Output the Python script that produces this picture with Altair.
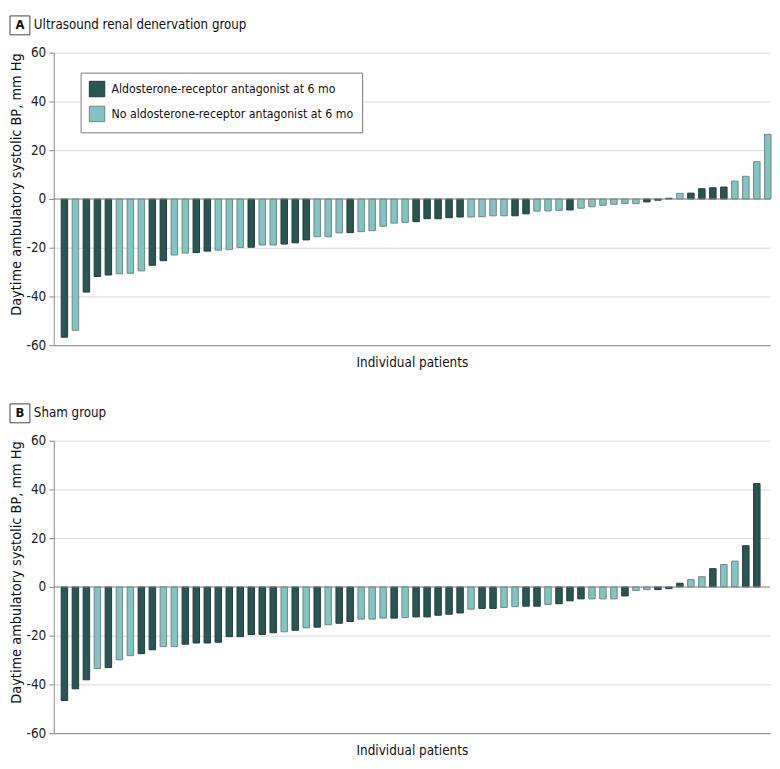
import altair as alt
import pandas as pd

FONT = "Liberation Sans Narrow, DejaVu Sans Condensed, Roboto Condensed, Roboto, sans-serif"

LAB_D = "Aldosterone-receptor antagonist at 6 mo"
LAB_L = "No aldosterone-receptor antagonist at 6 mo"
DARK, LIGHT = "#2b5552", "#82c4c1"
DARK_STROKE, LIGHT_STROKE = "#1f3d3b", "#6d8786"

a_title = "Ultrasound renal denervation group"
a_values = [
    -56.7, -53.9, -38.2, -31.8, -31.2, -30.7, -30.5, -29.5, -27.2, -25.3,
    -23.0, -22.2, -22.0, -21.4, -21.0, -20.8, -19.9, -19.8, -18.9, -18.9,
    -18.5, -18.0, -16.8, -15.5, -15.5, -13.9, -13.8, -13.4, -13.0, -11.2,
    -9.9, -9.6, -9.3, -8.1, -8.1, -7.7, -7.4, -7.4, -7.3, -6.9,
    -6.9, -6.9, -6.1, -5.0, -4.9, -4.7, -4.5, -3.8, -3.2, -2.6,
    -2.2, -1.9, -1.9, -1.2, -0.5, 0.3, 2.3, 2.4, 4.2, 4.6,
    4.9, 7.3, 9.3, 15.3, 26.5,
]
a_mra = [
    1, 0, 1, 1, 1, 0, 0, 0, 1, 1,
    0, 0, 1, 1, 0, 0, 0, 1, 0, 0,
    1, 1, 1, 0, 0, 0, 1, 0, 0, 0,
    0, 0, 1, 1, 1, 1, 1, 0, 0, 0,
    0, 1, 1, 0, 0, 0, 1, 0, 0, 0,
    0, 0, 0, 1, 1, 1, 0, 1, 1, 1,
    1, 0, 0, 0, 0,
]

b_title = "Sham group"
b_values = [
    -46.6, -41.8, -38.1, -33.5, -33.1, -29.9, -28.2, -27.4, -25.8, -24.5,
    -24.5, -23.5, -23.0, -23.0, -22.7, -20.4, -20.4, -19.5, -19.5, -18.8,
    -18.4, -17.8, -16.8, -16.5, -15.5, -14.9, -14.2, -13.2, -13.2, -12.8,
    -12.8, -12.6, -12.3, -12.3, -11.6, -11.2, -10.7, -9.1, -8.8, -8.8,
    -8.4, -8.1, -7.9, -7.9, -7.2, -6.9, -5.7, -4.9, -4.9, -4.9,
    -4.9, -3.7, -1.5, -1.1, -1.1, -0.7, 1.5, 3.0, 4.2, 7.5,
    9.2, 10.6, 16.9, 42.4,
]
b_mra = [
    1, 1, 1, 0, 1, 0, 0, 1, 1, 0,
    0, 1, 1, 1, 1, 1, 1, 1, 1, 1,
    0, 1, 0, 1, 0, 1, 1, 0, 0, 0,
    1, 0, 1, 1, 1, 1, 1, 0, 1, 1,
    0, 0, 1, 1, 0, 1, 1, 1, 0, 0,
    0, 1, 0, 0, 1, 1, 1, 0, 0, 1,
    0, 0, 1, 1,
]

y_ticks = [-60, -40, -20, 0, 20, 40, 60]


def panel(letter, title, values, mra, show_legend):
    df = pd.DataFrame({
        "patient": list(range(1, len(values) + 1)),
        "change": values,
        "group": [LAB_D if m else LAB_L for m in mra],
    })
    one = pd.DataFrame({"letter": [letter], "title": [title]})

    if show_legend:
        legend = alt.Legend(
            title=None, orient="none", legendX=27, legendY=20, direction="vertical",
            symbolType="square", symbolSize=240, symbolStrokeColor="#4a5a59",
            symbolStrokeWidth=1, labelFont=FONT, labelFontSize=12.3, labelColor="#111",
            labelOffset=6, rowPadding=4, padding=8, strokeColor="#777",
            fillColor="white", labelLimit=400,
        )
    else:
        legend = None

    bars = alt.Chart(df).mark_bar(size=6.5, strokeWidth=1, orient="vertical").encode(
        x=alt.X("patient:Q",
                scale=alt.Scale(domain=[0.03, 65.2], nice=False, zero=False, padding=0),
                axis=alt.Axis(title="Individual patients", labels=False, ticks=False,
                              grid=False, domain=True, domainColor="#888",
                              titleFont=FONT, titleFontSize=13.5, titleFontWeight="normal",
                              titleColor="#111", titlePadding=10)),
        y=alt.Y("change:Q",
                scale=alt.Scale(domain=[-60, 60], nice=False, padding=0),
                axis=alt.Axis(values=y_ticks, title="Daytime ambulatory systolic BP, mm Hg",
                              titleFont=FONT, titleFontSize=14.5, titleFontWeight="normal",
                              titleColor="#111", titleX=-37, titleY=0, titleAlign="right",
                              titleBaseline="middle", titleAngle=-90,
                              labelExpr="'' + datum.value",
                              labelFont=FONT, labelFontSize=13.5, labelColor="#222",
                              labelPadding=3, tickSize=5, tickColor="#888",
                              domainColor="#888", gridColor="#d9d9d9")),
        color=alt.Color("group:N",
                        scale=alt.Scale(domain=[LAB_D, LAB_L], range=[DARK, LIGHT]),
                        legend=legend),
        stroke=alt.Stroke("group:N",
                          scale=alt.Scale(domain=[LAB_D, LAB_L],
                                          range=[DARK_STROKE, LIGHT_STROKE]),
                          legend=None),
    )

    zero = alt.Chart(one).mark_rule(color="#8a8a8a", strokeWidth=1).encode(y=alt.datum(0))

    box = alt.Chart(one).mark_rect(fill="white", stroke="#444", strokeWidth=1).encode(
        x=alt.value(-44), x2=alt.value(-24), y=alt.value(-37), y2=alt.value(-18))
    letter_t = alt.Chart(one).mark_text(font=FONT, fontSize=13, fontWeight="bold",
                                        align="center", baseline="middle",
                                        color="#111").encode(
        x=alt.value(-34), y=alt.value(-27.5), text="letter:N")
    title_t = alt.Chart(one).mark_text(font=FONT, fontSize=13.3, align="left",
                                       baseline="middle", color="#111").encode(
        x=alt.value(-20), y=alt.value(-28), text="title:N")

    return alt.layer(bars, zero, box, letter_t, title_t).properties(width=720, height=294)


chart = alt.vconcat(
    panel("A", a_title, a_values, a_mra, True),
    panel("B", b_title, b_values, b_mra, False),
    spacing=34,
).resolve_scale(color="independent", stroke="independent").properties(
    padding={"left": 0, "top": 5, "right": 0, "bottom": 0}
).configure_view(stroke=None)

chart.save("out.html", embed_options={"renderer": "svg", "actions": False})
